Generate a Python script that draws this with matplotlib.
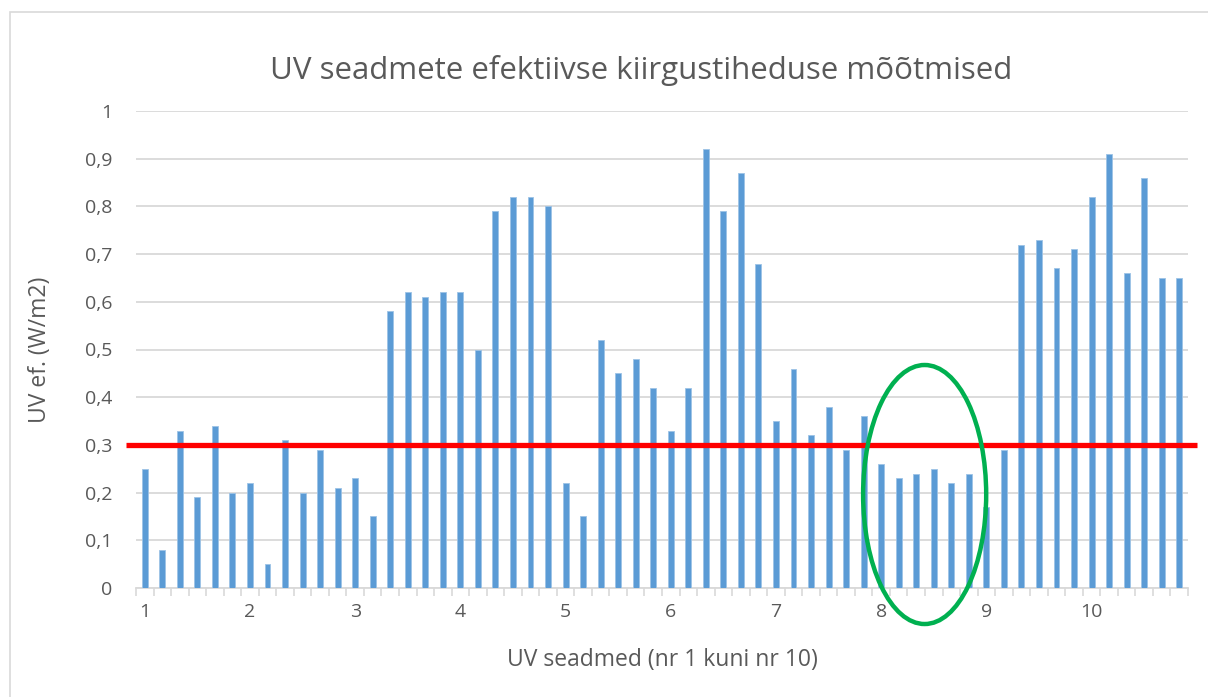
import matplotlib
matplotlib.use("Agg")
import matplotlib.pyplot as plt
from matplotlib.patches import Ellipse, Rectangle
import numpy as np

plt.rcParams['font.family'] = ['Open Sans', 'DejaVu Sans']

values = [0.25, 0.08, 0.33, 0.19, 0.34, 0.20,
          0.22, 0.05, 0.31, 0.20, 0.29, 0.21,
          0.23, 0.15, 0.58, 0.62, 0.61, 0.62,
          0.62, 0.50, 0.79, 0.82, 0.82, 0.80,
          0.22, 0.15, 0.52, 0.45, 0.48, 0.42,
          0.33, 0.42, 0.92, 0.79, 0.87, 0.68,
          0.35, 0.46, 0.32, 0.38, 0.29, 0.36,
          0.26, 0.23, 0.24, 0.25, 0.22, 0.24,
          0.17, 0.29, 0.72, 0.73, 0.67, 0.71,
          0.82, 0.91, 0.66, 0.86, 0.65, 0.65]
device_labels = ['1', '2', '3', '4', '5', '6', '7', '8', '9', '10']
limit_value = 0.3
y_ticks = [0, 0.1, 0.2, 0.3, 0.4, 0.5, 0.6, 0.7, 0.8, 0.9, 1.0]
y_tick_labels = ['0', '0,1', '0,2', '0,3', '0,4', '0,5', '0,6', '0,7', '0,8', '0,9', '1']

W, H = 1208, 697
fig = plt.figure(figsize=(W / 100, H / 100), dpi=100)
fig.patch.set_facecolor('white')

# outer chart border
fig.patches.append(Rectangle((10 / W, -0.05), 1.1, (H - 12) / H + 0.05,
                             transform=fig.transFigure, fill=False,
                             edgecolor='#D9D9D9', linewidth=1.2))

ax = fig.add_axes([136 / W, (H - 588) / H, (1188 - 136) / W, (588 - 111) / H])
x = np.arange(len(values))
ax.bar(x, values, width=0.34, color='#5B9BD5', edgecolor='#9DC3E6',
       linewidth=0.6, zorder=3)

ax.set_xlim(-0.5, len(values) - 0.5)
ax.set_ylim(0, 1)

ax.set_yticks(y_ticks)
ax.set_yticklabels(y_tick_labels)
ax.yaxis.grid(True, color='#D9D9D9', linewidth=1.3, zorder=0)
ax.set_axisbelow(True)

# category ticks at boundaries, labels at every 6th
ax.set_xticks(np.arange(-0.5, len(values) + 0.5, 1.0))
ax.set_xticklabels([])
ax.tick_params(axis='x', which='major', length=6, width=1.2, color='#D9D9D9')
lab_pos = x[::6]
for p, lab in zip(lab_pos, device_labels):
    ax.text(p, -0.05, lab, ha='center', va='center', fontsize=14,
            color='#595959', transform=ax.transData, clip_on=False)

ax.tick_params(axis='y', length=0, labelsize=14, labelcolor='#595959', pad=17)
for s in ['top', 'right', 'left']:
    ax.spines[s].set_visible(False)
ax.spines['bottom'].set_color('#D9D9D9')
ax.spines['bottom'].set_linewidth(1.3)

# red limit line (extends slightly beyond plot area)
ax.plot([-1.07, 60.02], [limit_value, limit_value], color='#FF0000',
        linewidth=3.8, clip_on=False, zorder=5, solid_capstyle='butt')

# green ellipse
ax.add_patch(Ellipse((44.48, 0.196), 7.02, 0.543, fill=False,
                     edgecolor='#00B050', linewidth=3.2, clip_on=False, zorder=6))

fig.text(641.5 / W, 1 - 70 / H, 'UV seadmete efektiivse kiirgustiheduse mõõtmised',
         ha='center', va='center', fontsize=22.5, color='#595959')
fig.text(662 / W, 1 - 660 / H, 'UV seadmed (nr 1 kuni nr 10)',
         ha='center', va='center', fontsize=16.5, color='#595959')
fig.text(40 / W, 1 - 350 / H, 'UV ef. (W/m2)', rotation=90,
         ha='center', va='center', fontsize=16.5, color='#595959')

fig.savefig('out.png', dpi=100)
